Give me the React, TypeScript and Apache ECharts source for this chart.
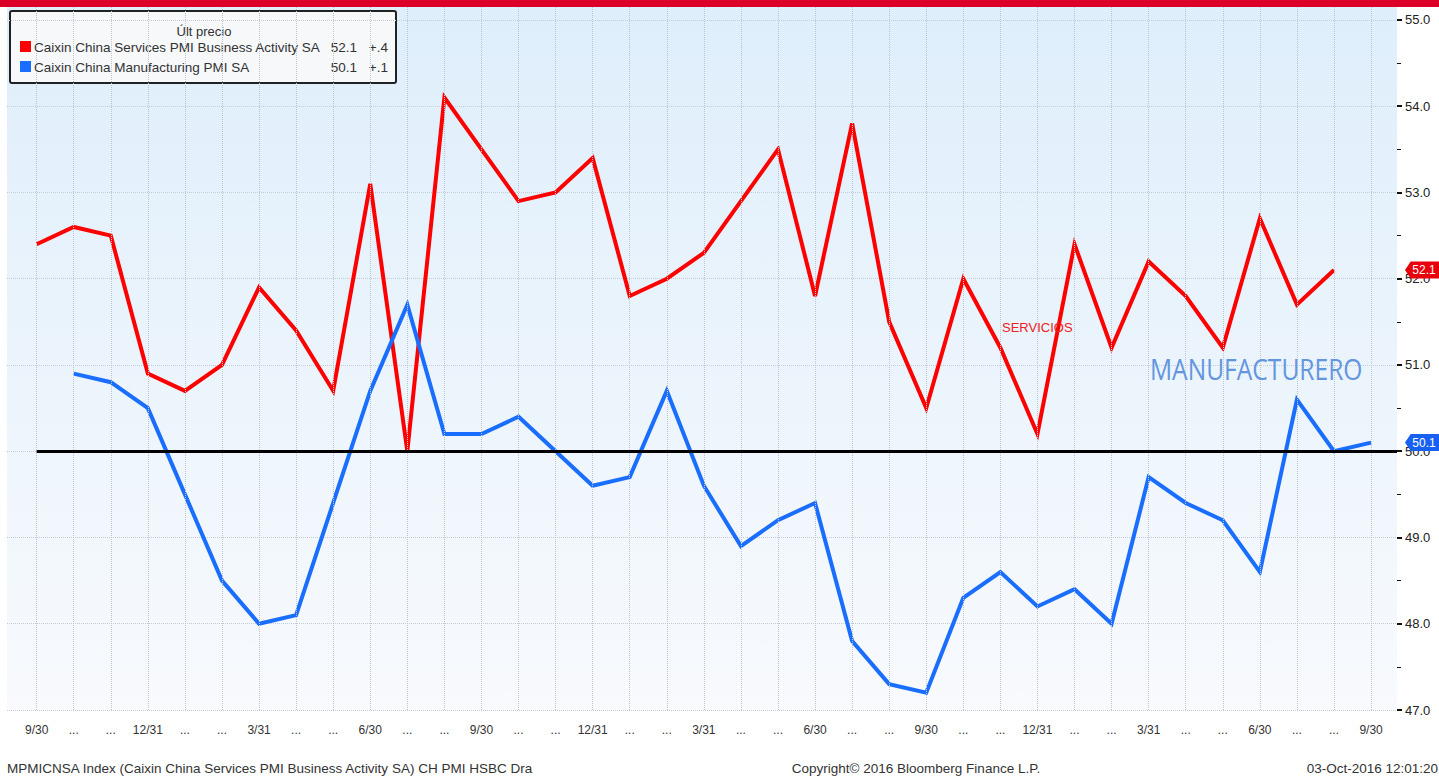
import React, { useEffect, useRef } from "react";
import * as echarts from "echarts";

// Month-end labels, Sep 2013 .. Sep 2016
const months = [
  "9/30", "...", "...", "12/31", "...", "...", "3/31", "...", "...", "6/30", "...", "...",
  "9/30", "...", "...", "12/31", "...", "...", "3/31", "...", "...", "6/30", "...", "...",
  "9/30", "...", "...", "12/31", "...", "...", "3/31", "...", "...", "6/30", "...", "...",
  "9/30",
];

// Caixin China Services PMI Business Activity SA
const services: (number | null)[] = [
  52.4, 52.6, 52.5, 50.9, 50.7, 51.0, 51.9, 51.4, 50.7, 53.1, 50.0, 54.1,
  53.5, 52.9, 53.0, 53.4, 51.8, 52.0, 52.3, 52.9, 53.5, 51.8, 53.8, 51.5,
  50.5, 52.0, 51.2, 50.2, 52.4, 51.2, 52.2, 51.8, 51.2, 52.7, 51.7, 52.1,
  null,
];

// Caixin China Manufacturing PMI SA
const manufacturing: (number | null)[] = [
  null, 50.9, 50.8, 50.5, 49.5, 48.5, 48.0, 48.1, 49.4, 50.7, 51.7, 50.2,
  50.2, 50.4, 50.0, 49.6, 49.7, 50.7, 49.6, 48.9, 49.2, 49.4, 47.8, 47.3,
  47.2, 48.3, 48.6, 48.2, 48.4, 48.0, 49.7, 49.4, 49.2, 48.6, 50.6, 50.0,
  50.1,
];

const yTicks = [47, 48, 49, 50, 51, 52, 53, 54, 55];
const referenceLevel = 50;

const servicesName = "Caixin China Services PMI Business Activity SA";
const manufacturingName = "Caixin China Manufacturing PMI SA";
const legendTitle = "Últ precio";
const footerLeft = "MPMICNSA Index (Caixin China Services PMI Business Activity SA) CH PMI HSBC Dra";
const footerCenter = "Copyright© 2016 Bloomberg Finance L.P.";
const footerRight = "03-Oct-2016 12:01:20";

const RED = "#ff0000";
const BLUE = "#1a6eff";
const FONT = "'Liberation Sans', Arial, sans-serif";

const X_MIN = -0.8;
const X_MAX = 36.7;

function lastTwo(arr: (number | null)[]) {
  const vals = arr.filter((v) => v != null) as number[];
  return [vals[vals.length - 1], vals[vals.length - 2]];
}
function fmtChange(d: number) {
  const s = Math.abs(d).toFixed(1).replace(/^0/, "");
  return (d >= 0 ? "+" : "-") + s;
}
function toPairs(arr: (number | null)[]) {
  const out: [number, number][] = [];
  arr.forEach((v, i) => {
    if (v != null) out.push([i, v]);
  });
  return out;
}

const tagPath = "path://M0,8 L6,0 L40,0 L40,16 L6,16 Z";

export default function App() {
  const ref = useRef<HTMLDivElement>(null);
  useEffect(() => {
    if (!ref.current) return;
    const chart = echarts.init(ref.current, undefined, { renderer: "svg" });
    const [sLast, sPrev] = lastTwo(services);
    const [mLast, mPrev] = lastTwo(manufacturing);

    const tagLabel = { show: true, color: "#fff", fontSize: 12, fontFamily: FONT, formatter: (p: any) => Number(p.value).toFixed(1) };

    const option: any = {
      animation: false,
      backgroundColor: "#ffffff",
      grid: {
        left: 7,
        right: 42,
        top: 7,
        bottom: 66,
        show: true,
        borderWidth: 0,
        backgroundColor: new echarts.graphic.LinearGradient(0, 0, 0, 1, [
          { offset: 0, color: "#deeefb" },
          { offset: 1, color: "#f8fafd" },
        ]),
      },
      xAxis: {
        type: "value",
        min: X_MIN,
        max: X_MAX,
        axisLine: { show: false, onZero: false },
        axisTick: { show: false },
        splitLine: { show: false },
        axisLabel: {
          customValues: months.map((_, i) => i),
          formatter: (v: number) => months[Math.round(v)] ?? "",
          color: "#333",
          fontSize: 12,
          fontFamily: FONT,
          margin: 14,
        },
      },
      yAxis: {
        type: "value",
        position: "right",
        min: 47,
        max: 55.15,
        interval: 1,
        axisLine: { show: false, onZero: false },
        axisTick: { show: true, length: 5, customValues: yTicks, lineStyle: { color: "#111", width: 2 } },
        minorTick: { show: true, splitNumber: 2, length: 4, lineStyle: { color: "#111", width: 1 } },
        axisLabel: {
          customValues: yTicks,
          formatter: (v: number) => v.toFixed(1),
          color: "#222",
          fontSize: 13,
          fontFamily: FONT,
          margin: 8,
        },
        splitLine: { show: true, lineStyle: { color: "#c3ccd6", type: "dotted", width: 1 } },
      },
      series: [
        {
          // vertical month grid lines
          type: "line",
          data: [],
          silent: true,
          z: 1,
          markLine: {
            silent: true,
            symbol: "none",
            label: { show: false },
            lineStyle: { color: "#bcc5cf", type: "dotted", width: 1 },
            data: months.map((_, i) => ({ xAxis: i })),
          },
        },
        {
          name: servicesName,
          type: "line",
          data: toPairs(services),
          showSymbol: false,
          symbol: "none",
          clip: false,
          z: 4,
          lineStyle: { color: RED, width: 4, join: "miter" },
          itemStyle: { color: RED },
          markPoint: {
            symbol: tagPath,
            symbolSize: [38, 17],
            symbolOffset: [27, 0],
            itemStyle: { color: "#e8000b" },
            label: tagLabel,
            data: [{ coord: [X_MAX, sLast], value: sLast }],
          },
        },
        {
          name: manufacturingName,
          type: "line",
          data: toPairs(manufacturing),
          showSymbol: false,
          symbol: "none",
          clip: false,
          z: 4,
          lineStyle: { color: BLUE, width: 4, join: "miter" },
          itemStyle: { color: BLUE },
          markLine: {
            silent: true,
            symbol: "none",
            label: { show: false },
            lineStyle: { color: "#000", type: "solid", width: 3 },
            data: [[{ coord: [0, referenceLevel] }, { coord: [X_MAX, referenceLevel] }]],
          },
          markPoint: {
            symbol: tagPath,
            symbolSize: [38, 17],
            symbolOffset: [27, 0],
            itemStyle: { color: "#1760f0" },
            label: tagLabel,
            data: [{ coord: [X_MAX, mLast], value: mLast }],
          },
        },
      ],
      graphic: [
        { type: "rect", z: 100, shape: { x: 0, y: 0, width: 1439, height: 7 }, style: { fill: "#dc0028" } },
        {
          type: "group",
          z: 100,
          children: [
            { type: "rect", shape: { x: 10, y: 11, width: 386, height: 72, r: 2 }, style: { fill: "#f6f8fa", stroke: "#222", lineWidth: 2 } },
            { type: "text", x: 204, y: 31, style: { text: legendTitle, font: `13px ${FONT}`, fill: "#333", align: "center", verticalAlign: "middle" } },
            { type: "rect", shape: { x: 20, y: 41, width: 11, height: 11 }, style: { fill: RED } },
            { type: "text", x: 34, y: 47, style: { text: servicesName, font: `13.5px ${FONT}`, fill: "#333", verticalAlign: "middle" } },
            { type: "text", x: 357, y: 47, style: { text: sLast.toFixed(1), font: `13.5px ${FONT}`, fill: "#333", align: "right", verticalAlign: "middle" } },
            { type: "text", x: 388, y: 47, style: { text: fmtChange(sLast - sPrev), font: `13.5px ${FONT}`, fill: "#333", align: "right", verticalAlign: "middle" } },
            { type: "rect", shape: { x: 20, y: 61, width: 11, height: 11 }, style: { fill: BLUE } },
            { type: "text", x: 34, y: 67, style: { text: manufacturingName, font: `13.5px ${FONT}`, fill: "#333", verticalAlign: "middle" } },
            { type: "text", x: 357, y: 67, style: { text: mLast.toFixed(1), font: `13.5px ${FONT}`, fill: "#333", align: "right", verticalAlign: "middle" } },
            { type: "text", x: 388, y: 67, style: { text: fmtChange(mLast - mPrev), font: `13.5px ${FONT}`, fill: "#333", align: "right", verticalAlign: "middle" } },
          ],
        },
        { type: "text", z: 50, x: 1002, y: 327, style: { text: "SERVICIOS", font: `13px ${FONT}`, fill: "#f02020", verticalAlign: "middle" } },
        { type: "text", z: 50, x: 1150, y: 369, scaleX: 0.82, style: { text: "MANUFACTURERO", font: `30px 'Open Sans', sans-serif`, fill: "#6496e0", verticalAlign: "middle" } },
        { type: "text", z: 50, x: 7, y: 768, style: { text: footerLeft, font: `13.5px ${FONT}`, fill: "#333", verticalAlign: "middle" } },
        { type: "text", z: 50, x: 916, y: 768, style: { text: footerCenter, font: `13.5px ${FONT}`, fill: "#333", align: "center", verticalAlign: "middle" } },
        { type: "text", z: 50, x: 1438, y: 768, style: { text: footerRight, font: `13.5px ${FONT}`, fill: "#333", align: "right", verticalAlign: "middle" } },
      ],
    };
    chart.setOption(option);
    return () => chart.dispose();
  }, []);
  return <div ref={ref} style={{ position: "absolute", left: 0, top: 0, width: 1439, height: 776 }} />;
}
